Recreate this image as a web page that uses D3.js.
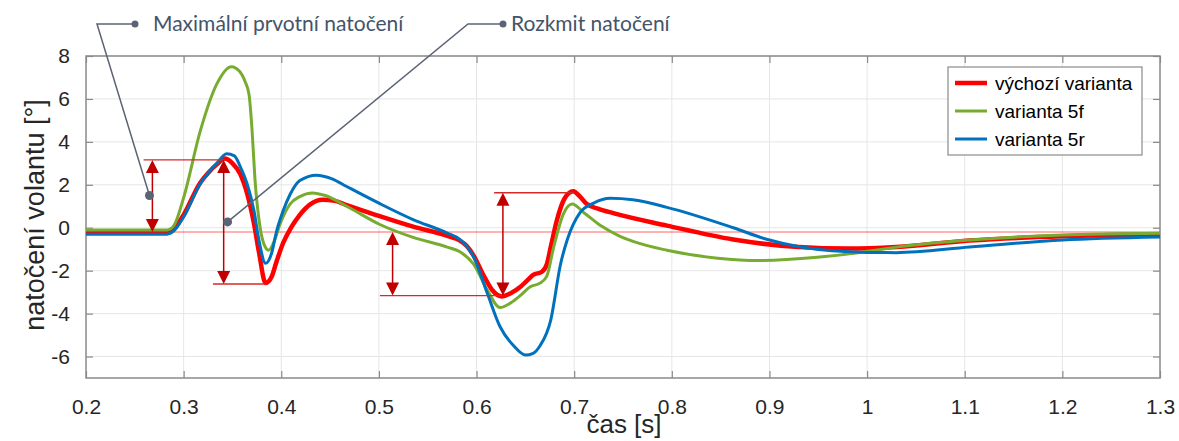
<!DOCTYPE html>
<html>
<head>
<meta charset="utf-8">
<script src="https://cdn.jsdelivr.net/npm/d3@7"></script>
<style>
    body { margin: 0; background: #fff; }
    svg { display: block; }
</style>
</head>
<body>
<div class="chart-wrapper"></div>
<script>
// data
var xTicks = [0.2, 0.3, 0.4, 0.5, 0.6, 0.7, 0.8, 0.9, 1.0, 1.1, 1.2, 1.3];
var yTicks = [-6, -4, -2, 0, 2, 4, 6, 8];

var redTime = [0.2, 0.283, 0.29, 0.3, 0.317, 0.326, 0.334, 0.342, 0.35, 0.358, 0.365, 0.372, 0.377, 0.384, 0.39, 0.395, 0.402, 0.41, 0.419, 0.43, 0.442, 0.455, 0.467, 0.5, 0.535, 0.57, 0.583, 0.59, 0.597, 0.607, 0.616, 0.626, 0.635, 0.645, 0.652, 0.658, 0.667, 0.672, 0.676, 0.682, 0.69, 0.699, 0.706, 0.713, 0.725, 0.74, 0.795, 0.863, 0.93, 0.98, 1.03, 1.105, 1.2, 1.3];
var redValue = [-0.2, -0.2, -0.05, 0.6, 2.1, 2.6, 2.95, 3.22, 3.0, 2.5, 1.6, 0.2, -1.1, -2.58, -2.3, -1.6, -0.7, 0.0, 0.6, 1.1, 1.3, 1.25, 1.05, 0.55, 0.05, -0.38, -0.6, -0.85, -1.3, -2.2, -2.9, -3.2, -3.05, -2.75, -2.45, -2.2, -2.05, -1.7, -0.9, 0.3, 1.35, 1.7, 1.45, 1.1, 0.88, 0.68, 0.1, -0.55, -0.9, -0.97, -0.9, -0.6, -0.4, -0.32];

var greenTime = [0.2, 0.283, 0.29, 0.3, 0.317, 0.334, 0.349, 0.357, 0.363, 0.367, 0.37, 0.373, 0.378, 0.383, 0.387, 0.393, 0.399, 0.409, 0.419, 0.432, 0.445, 0.467, 0.501, 0.535, 0.57, 0.583, 0.597, 0.611, 0.624, 0.635, 0.645, 0.655, 0.665, 0.672, 0.679, 0.689, 0.698, 0.71, 0.727, 0.747, 0.761, 0.795, 0.847, 0.89, 0.949, 1.0, 1.034, 1.105, 1.2, 1.3];
var greenValue = [-0.1, -0.1, 0.1, 1.4, 4.5, 6.7, 7.5, 7.3, 6.8, 6.2, 4.6, 2.3, 0.1, -0.85, -1.05, -0.6, 0.2, 1.1, 1.45, 1.62, 1.5, 1.0, 0.15, -0.45, -0.9, -1.12, -1.7, -2.9, -3.72, -3.5, -3.15, -2.75, -2.58, -2.25, -0.9, 0.65, 1.1, 0.7, 0.1, -0.4, -0.65, -1.05, -1.42, -1.53, -1.38, -1.1, -0.88, -0.57, -0.34, -0.26];

var blueTime = [0.2, 0.283, 0.29, 0.3, 0.317, 0.334, 0.344, 0.352, 0.358, 0.365, 0.372, 0.377, 0.384, 0.39, 0.395, 0.402, 0.409, 0.419, 0.436, 0.452, 0.467, 0.501, 0.535, 0.57, 0.583, 0.597, 0.611, 0.624, 0.638, 0.65, 0.658, 0.665, 0.676, 0.686, 0.693, 0.706, 0.72, 0.737, 0.76, 0.795, 0.863, 0.898, 0.932, 1.0, 1.03, 1.105, 1.2, 1.3];
var blueValue = [-0.3, -0.3, -0.15, 0.5, 2.05, 3.0, 3.45, 3.35, 2.85, 2.05, 0.8, -0.55, -1.66, -1.2, -0.2, 0.8, 1.55, 2.2, 2.45, 2.28, 1.92, 1.12, 0.38, -0.25, -0.55, -1.35, -3.05, -4.6, -5.5, -5.93, -5.85, -5.5, -4.3, -1.7, -0.55, 0.7, 1.15, 1.37, 1.3, 0.95, 0.0, -0.55, -0.9, -1.15, -1.16, -0.9, -0.57, -0.43];

var seriesNames = ["výchozí varianta", "varianta 5f", "varianta 5r"];

// annotation values
var baseLevel = -0.2;
var firstPeak = 3.16;
var firstDip = -2.62;
var secondDip = -3.16;
var secondPeak = 1.63;

var config = {
    width: 1179,
    height: 441,
    margin: {top: 56, right: 19, bottom: 63, left: 86}
};
var margin = config.margin;
var width = config.width - margin.left - margin.right;
var height = config.height - margin.top - margin.bottom;

var x = d3.scaleLinear().domain([0.2, 1.3]).range([0, width]);
var y = d3.scaleLinear().domain([-7, 8]).range([height, 0]);

var root = d3.select(".chart-wrapper").append("svg")
    .attr("width", config.width)
    .attr("height", config.height);

var svg = root.append("g")
    .attr("transform", "translate(" + margin.left + "," + margin.top + ")");

// grid
svg.append("g").selectAll("line")
    .data(xTicks.slice(1, -1))
    .enter().append("line")
    .attr("x1", function (d) { return x(d); })
    .attr("x2", function (d) { return x(d); })
    .attr("y1", 0).attr("y2", height)
    .attr("stroke", "#e6e6e6").attr("stroke-width", 1);
svg.append("g").selectAll("line")
    .data(yTicks)
    .enter().append("line")
    .attr("x1", 0).attr("x2", width)
    .attr("y1", function (d) { return y(d); })
    .attr("y2", function (d) { return y(d); })
    .attr("stroke", "#e6e6e6").attr("stroke-width", 1);

// axes
var fmt = function (d) { return String(+d.toFixed(1)); };
var xAxis = d3.axisBottom(x).tickValues(xTicks).tickFormat(fmt).tickSizeInner(-7).tickSizeOuter(0).tickPadding(21);
var xAxisTop = d3.axisTop(x).tickValues(xTicks).tickFormat("").tickSizeInner(-7).tickSizeOuter(0);
var yAxis = d3.axisLeft(y).tickValues(yTicks).tickFormat(fmt).tickSizeInner(-7).tickSizeOuter(0).tickPadding(16);
var yAxisRight = d3.axisRight(y).tickValues(yTicks).tickFormat("").tickSizeInner(-7).tickSizeOuter(0);

svg.append("g").attr("class", "x axis")
    .attr("transform", "translate(0," + height + ")")
    .call(xAxis);
svg.append("g").attr("class", "x axis").call(xAxisTop);
svg.append("g").attr("class", "y axis").call(yAxis);
svg.append("g").attr("class", "y axis")
    .attr("transform", "translate(" + width + ",0)")
    .call(yAxisRight);

svg.selectAll(".axis .domain").remove();
svg.selectAll(".axis line").attr("stroke", "#8a8a8a").attr("stroke-width", 1.2);
svg.selectAll(".axis text")
    .attr("fill", "#262626")
    .style("font-family", "'Liberation Sans', Arial, sans-serif")
    .style("font-size", "21px");

svg.append("rect")
    .attr("width", width).attr("height", height)
    .attr("fill", "none").attr("stroke", "#8a8a8a").attr("stroke-width", 1.5);

// axis titles
root.append("text")
    .attr("x", margin.left + width / 2 + 1)
    .attr("y", 433)
    .attr("text-anchor", "middle")
    .attr("fill", "#262626")
    .style("font-family", "'Liberation Sans', Arial, sans-serif")
    .style("font-size", "26px")
    .text("čas [s]");
root.append("text")
    .attr("transform", "translate(44," + (margin.top + height / 2 - 2) + ") rotate(-90)")
    .attr("text-anchor", "middle")
    .attr("fill", "#262626")
    .style("font-family", "'Liberation Sans', Arial, sans-serif")
    .style("font-size", "27px")
    .text("natočení volantu [°]");

// reference level
svg.append("line")
    .attr("x1", 0).attr("x2", width)
    .attr("y1", y(baseLevel)).attr("y2", y(baseLevel))
    .attr("stroke", "#ff0000").attr("stroke-opacity", 0.3).attr("stroke-width", 2);

// curves
var line = d3.line()
    .x(function (d) { return x(d[0]); })
    .y(function (d) { return y(d[1]); })
    .curve(d3.curveMonotoneX);

var series = [
    {name: seriesNames[0], t: redTime, v: redValue, color: "#ff0000", w: 4.5},
    {name: seriesNames[1], t: greenTime, v: greenValue, color: "#77ac30", w: 3},
    {name: seriesNames[2], t: blueTime, v: blueValue, color: "#0072bd", w: 3}
];

svg.append("g").selectAll("path")
    .data(series)
    .enter().append("path")
    .attr("d", function (s) {
        return line(s.t.map(function (t, i) { return [t, s.v[i]]; }));
    })
    .attr("fill", "none")
    .attr("stroke", function (s) { return s.color; })
    .attr("stroke-width", function (s) { return s.w; })
    .attr("stroke-linejoin", "round");

// red measurement marks
var ann = svg.append("g");
var hLines = [
    [0.259, 0.342, firstPeak],
    [0.33, 0.384, firstDip],
    [0.501, 0.626, secondDip],
    [0.618, 0.699, secondPeak]
];
ann.selectAll("line.h")
    .data(hLines)
    .enter().append("line")
    .attr("class", "h")
    .attr("x1", function (d) { return x(d[0]); })
    .attr("x2", function (d) { return x(d[1]); })
    .attr("y1", function (d) { return y(d[2]); })
    .attr("y2", function (d) { return y(d[2]); })
    .attr("stroke", "#d42a2a").attr("stroke-width", 1.3);

var arrows = [
    [0.268, baseLevel, firstPeak],
    [0.341, firstDip, firstPeak],
    [0.514, secondDip, baseLevel],
    [0.627, secondDip, secondPeak]
];
arrows.forEach(function (a) {
    var ax = x(a[0]), y0 = y(a[1]), y1 = y(a[2]);
    ann.append("line")
        .attr("x1", ax).attr("x2", ax)
        .attr("y1", y1 + 6).attr("y2", y0 - 6)
        .attr("stroke", "#c00000").attr("stroke-width", 1.5);
    ann.append("path")
        .attr("d", "M" + ax + "," + y1 + "L" + (ax - 6.5) + "," + (y1 + 13) + "L" + (ax + 6.5) + "," + (y1 + 13) + "Z")
        .attr("fill", "#c00000");
    ann.append("path")
        .attr("d", "M" + ax + "," + y0 + "L" + (ax - 6.5) + "," + (y0 - 13) + "L" + (ax + 6.5) + "," + (y0 - 13) + "Z")
        .attr("fill", "#c00000");
});

// callouts
var callouts = [
    {text: "Maximální prvotní natočení", tx: 153, ty: 24, dotX: 135, kneeX: 97, tipT: 0.265, tipV: 1.5},
    {text: "Rozkmit natočení", tx: 511, ty: 24, dotX: 503, kneeX: 468, tipT: 0.345, tipV: 0.27}
];
callouts.forEach(function (c) {
    var tipX = margin.left + x(c.tipT), tipY = margin.top + y(c.tipV);
    root.append("path")
        .attr("d", "M" + c.dotX + "," + c.ty + "L" + c.kneeX + "," + c.ty + "L" + tipX + "," + tipY)
        .attr("fill", "none").attr("stroke", "#5b6475").attr("stroke-width", 1.5);
    root.append("circle").attr("cx", c.dotX).attr("cy", c.ty).attr("r", 3.5).attr("fill", "#5b6475");
    root.append("circle").attr("cx", tipX).attr("cy", tipY).attr("r", 4.5).attr("fill", "#5b6475");
    root.append("text")
        .attr("x", c.tx).attr("y", c.ty + 7)
        .attr("fill", "#44546a")
        .style("font-family", "Lato, 'Open Sans', sans-serif")
        .style("font-size", "21px")
        .text(c.text);
});

// legend
var legend = root.append("g").attr("transform", "translate(948,67)");
legend.append("rect")
    .attr("width", 194).attr("height", 88)
    .attr("fill", "#fff").attr("stroke", "#8a8a8a").attr("stroke-width", 1.2);
var item = legend.selectAll("g.item")
    .data(series)
    .enter().append("g")
    .attr("class", "item")
    .attr("transform", function (d, i) { return "translate(0," + (16 + i * 28) + ")"; });
item.append("line")
    .attr("x1", 7).attr("x2", 39)
    .attr("stroke", function (d) { return d.color; })
    .attr("stroke-width", function (d) { return d.w; });
item.append("text")
    .attr("x", 47).attr("y", 7)
    .attr("fill", "#000")
    .style("font-family", "'Liberation Sans', Arial, sans-serif")
    .style("font-size", "19px")
    .text(function (d) { return d.name; });
</script>
</body>
</html>
